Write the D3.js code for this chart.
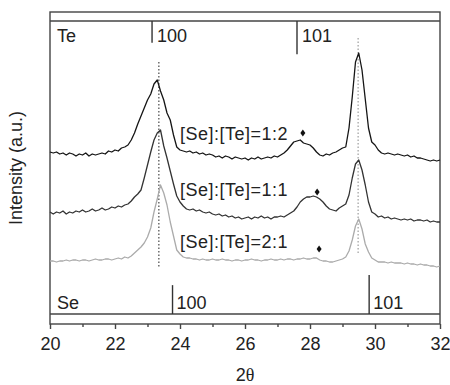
<!DOCTYPE html>
<html>
<head>
<meta charset="utf-8">
<script src="https://cdn.jsdelivr.net/npm/d3@7"></script>
<style>
  body { margin: 0; background: #fff; }
  text { font-family: "Liberation Sans", Arial, sans-serif; fill: #222; }
</style>
</head>
<body>
<svg id="xrd"></svg>
<script>
// 2θ sampling (deg)
const twoTheta = [
  20.0, 20.1, 20.2, 20.3, 20.4, 20.5, 20.6, 20.7, 20.8, 20.9,
  21.0, 21.1, 21.2, 21.3, 21.4, 21.5, 21.6, 21.7, 21.8, 21.9,
  22.0, 22.1, 22.2, 22.3, 22.4, 22.5, 22.6, 22.7, 22.8, 22.9,
  23.0, 23.1, 23.2, 23.3, 23.4, 23.5, 23.6, 23.7, 23.8, 23.9,
  24.0, 24.1, 24.2, 24.3, 24.4, 24.5, 24.6, 24.7, 24.8, 24.9,
  25.0, 25.1, 25.2, 25.3, 25.4, 25.5, 25.6, 25.7, 25.8, 25.9,
  26.0, 26.1, 26.2, 26.3, 26.4, 26.5, 26.6, 26.7, 26.8, 26.9,
  27.0, 27.1, 27.2, 27.3, 27.4, 27.5, 27.6, 27.7, 27.8, 27.9,
  28.0, 28.1, 28.2, 28.3, 28.4, 28.5, 28.6, 28.7, 28.8, 28.9,
  29.0, 29.1, 29.2, 29.3, 29.4, 29.5, 29.6, 29.7, 29.8, 29.9,
  30.0, 30.1, 30.2, 30.3, 30.4, 30.5, 30.6, 30.7, 30.8, 30.9,
  31.0, 31.1, 31.2, 31.3, 31.4, 31.5, 31.6, 31.7, 31.8, 31.9,
  32.0
];

// intensities (a.u., stacked offsets included)
const ratio12 = [
  172, 171, 172, 170, 171, 169, 171, 170, 168, 170,
  169, 171, 168, 170, 169, 170, 171, 170, 173, 172,
  174, 173, 176, 177, 179, 184, 191, 200, 208, 216,
  224, 230, 240, 244, 233, 224, 211, 204, 189, 177,
  174, 173, 172, 173, 171, 172, 170, 171, 169, 170,
  169, 167, 168, 166, 168, 167, 165, 167, 166, 165,
  166, 164, 166, 165, 167, 165, 166, 167, 166, 168,
  167, 169, 171, 174, 178, 182, 183, 184, 181, 180,
  179, 176, 172, 169, 168, 170, 169, 171, 172, 174,
  176, 177, 196, 227, 262, 271, 254, 225, 196, 182,
  179, 174, 171, 170, 171, 170, 169, 170, 169, 168,
  169, 167, 168, 166, 166, 165, 164, 163, 164, 163,
  164
];

const ratio11 = [
  112, 110, 112, 111, 113, 110, 112, 111, 113, 112,
  114, 112, 113, 115, 113, 114, 116, 114, 115, 117,
  116, 118, 117, 119, 120, 123, 127, 130, 134, 146,
  159, 172, 184, 191, 194, 178, 166, 153, 140, 128,
  122, 118, 115, 114, 115, 113, 114, 112, 111, 112,
  110, 109, 110, 108, 109, 107, 108, 106, 107, 105,
  106, 107, 105, 107, 106, 108, 106, 107, 105, 107,
  107, 108, 107, 109, 111, 113, 117, 122, 125, 127,
  127, 128, 127, 125, 122, 118, 115, 114, 113, 116,
  118, 120, 129, 146, 160, 164, 154, 139, 122, 112,
  110, 107, 108, 106, 107, 105, 106, 105, 104, 105,
  104, 105, 103, 104, 104, 103, 104, 102, 103, 102,
  102
];

const ratio21 = [
  63, 63, 62, 63, 63, 64, 63, 64, 64, 63,
  64, 64, 63, 64, 65, 64, 64, 65, 65, 64,
  65, 66, 65, 67, 66, 68, 71, 74, 77, 81,
  87, 96, 112, 125, 139, 131, 119, 102, 88, 74,
  70, 67, 66, 66, 65, 65, 64, 65, 64, 64,
  65, 64, 64, 65, 64, 64, 63, 64, 64, 63,
  64, 64, 65, 64, 64, 63, 64, 64, 65, 64,
  64, 65, 64, 65, 65, 64, 65, 65, 66, 65,
  65, 66, 66, 64, 63, 63, 62, 62, 63, 64,
  65, 67, 73, 84, 98, 105, 95, 80, 72, 66,
  64, 62, 62, 62, 61, 62, 61, 61, 61, 60,
  61, 60, 60, 59, 60, 59, 59, 58, 58, 57,
  58
];

const seriesNames = ['[Se]:[Te]=1:2', '[Se]:[Te]=1:1', '[Se]:[Te]=2:1'];
const seriesColors = ['#151515', '#333333', '#ababab'];
const labelPos = [[24.0, 184], [24.0, 128], [24.0, 76]];
const markerPos = [[27.78, 191], [28.22, 132], [28.28, 75]];

// reference patterns: 2θ and relative height
const teHkl = ['100', '101'];
const tePos = [23.14, 27.6];
const teRel = [56, 85];
const seHkl = ['100', '101'];
const sePos = [23.77, 29.82];
const seRel = [74, 100];

const guideLines = [23.35, 29.48];
const xTicks = [20, 22, 24, 26, 28, 30, 32];
const xMinor = [21, 23, 25, 27, 29, 31];

const svgWidth = 450;
const svgHeight = 385;
const plot = { left: 50, right: 440, top: 12, bottom: 324 };
const teTop = 21;   // line under top strip
const seBase = 314; // line above bottom strip

const x = d3.scaleLinear().domain([20, 32]).range([plot.left, plot.right]);
const y = d3.scaleLinear().domain([0, 312]).range([plot.bottom, plot.top]);
const refH = d3.scaleLinear().domain([0, 100]).range([0, 39]);

const svg = d3.select('#xrd')
  .attr('width', svgWidth)
  .attr('height', svgHeight);

// frame
const frame = svg.append('g')
  .attr('stroke', '#444')
  .attr('stroke-width', 1.4)
  .attr('fill', 'none');
frame.append('rect')
  .attr('x', plot.left).attr('y', plot.top)
  .attr('width', plot.right - plot.left)
  .attr('height', plot.bottom - plot.top);
frame.append('line')
  .attr('x1', plot.left).attr('x2', plot.right)
  .attr('y1', teTop).attr('y2', teTop);
frame.append('line')
  .attr('x1', plot.left).attr('x2', plot.right)
  .attr('y1', seBase).attr('y2', seBase);

// x axis
const xAxis = d3.axisBottom(x).tickValues(xTicks).tickSize(5).tickPadding(8);
const xAxisMinor = d3.axisBottom(x).tickValues(xMinor).tickSize(3).tickFormat('');

const gx = svg.append('g')
  .attr('transform', `translate(0, ${plot.bottom})`)
  .call(xAxis);
gx.select('.domain').remove();
gx.selectAll('line').attr('stroke', '#444').attr('stroke-width', 1.4);
gx.selectAll('text')
  .style('font-size', '18px')
  .style('font-family', '"Liberation Sans", Arial, sans-serif')
  .attr('fill', '#222');

const gxm = svg.append('g')
  .attr('transform', `translate(0, ${plot.bottom})`)
  .call(xAxisMinor);
gxm.select('.domain').remove();
gxm.selectAll('line').attr('stroke', '#444').attr('stroke-width', 1.4);

const xLabel = svg.append('text')
  .attr('x', (plot.left + plot.right) / 2)
  .attr('y', 381)
  .attr('text-anchor', 'middle')
  .style('font-size', '18px');
xLabel.append('tspan').text('2');
xLabel.append('tspan')
  .style('font-family', '"Liberation Serif", "DejaVu Serif", serif')
  .text('θ');

svg.append('text')
  .attr('transform', 'translate(22, 168) rotate(-90)')
  .attr('text-anchor', 'middle')
  .style('font-size', '18px')
  .text('Intensity (a.u.)');

// Te reference (hanging from top)
svg.selectAll('.te-tick')
  .data(tePos)
  .enter()
  .append('line')
    .attr('class', 'te-tick')
    .attr('x1', d => x(d)).attr('x2', d => x(d))
    .attr('y1', teTop)
    .attr('y2', (d, i) => teTop + refH(teRel[i]))
    .attr('stroke', '#333').attr('stroke-width', 1.4);
svg.selectAll('.te-label')
  .data(tePos)
  .enter()
  .append('text')
    .attr('class', 'te-label')
    .attr('x', d => x(d) + 5)
    .attr('y', 42)
    .style('font-size', '18px')
    .text((d, i) => teHkl[i]);
svg.append('text')
  .attr('x', 57).attr('y', 42)
  .style('font-size', '18px')
  .text('Te');

// Se reference (standing on bottom line)
svg.selectAll('.se-tick')
  .data(sePos)
  .enter()
  .append('line')
    .attr('class', 'se-tick')
    .attr('x1', d => x(d)).attr('x2', d => x(d))
    .attr('y1', seBase)
    .attr('y2', (d, i) => seBase - refH(seRel[i]))
    .attr('stroke', '#333').attr('stroke-width', 1.4);
svg.selectAll('.se-label')
  .data(sePos)
  .enter()
  .append('text')
    .attr('class', 'se-label')
    .attr('x', d => x(d) + 4)
    .attr('y', 309)
    .style('font-size', '18px')
    .text((d, i) => seHkl[i]);
svg.append('text')
  .attr('x', 57).attr('y', 309)
  .style('font-size', '18px')
  .text('Se');

// dotted guides
svg.append('line')
  .attr('x1', x(guideLines[0])).attr('x2', x(guideLines[0]))
  .attr('y1', 62).attr('y2', 267)
  .attr('stroke', '#222').attr('stroke-width', 1)
  .attr('stroke-dasharray', '1.5,2');
svg.append('line')
  .attr('x1', x(guideLines[1])).attr('x2', x(guideLines[1]))
  .attr('y1', 38).attr('y2', 253)
  .attr('stroke', '#888').attr('stroke-width', 1)
  .attr('stroke-dasharray', '1.5,2');

// patterns
const line = d3.line()
  .x((d, i) => x(twoTheta[i]))
  .y(d => y(d));

svg.selectAll('.pattern')
  .data([ratio12, ratio11, ratio21])
  .enter()
  .append('path')
    .attr('class', 'pattern')
    .attr('fill', 'none')
    .attr('stroke', (d, i) => seriesColors[i])
    .attr('stroke-width', 1.3)
    .attr('stroke-linejoin', 'round')
    .attr('d', line);

svg.selectAll('.series-label')
  .data(seriesNames)
  .enter()
  .append('text')
    .attr('class', 'series-label')
    .attr('x', (d, i) => x(labelPos[i][0]))
    .attr('y', (d, i) => y(labelPos[i][1]))
    .style('font-size', '18px')
    .style('letter-spacing', '0.5px')
    .text(d => d);

svg.selectAll('.marker')
  .data(markerPos)
  .enter()
  .append('path')
    .attr('class', 'marker')
    .attr('transform', d => `translate(${x(d[0])}, ${y(d[1])})`)
    .attr('d', 'M0,-3.5L2.5,0L0,3.5L-2.5,0Z')
    .attr('fill', '#111');
</script>
</body>
</html>
